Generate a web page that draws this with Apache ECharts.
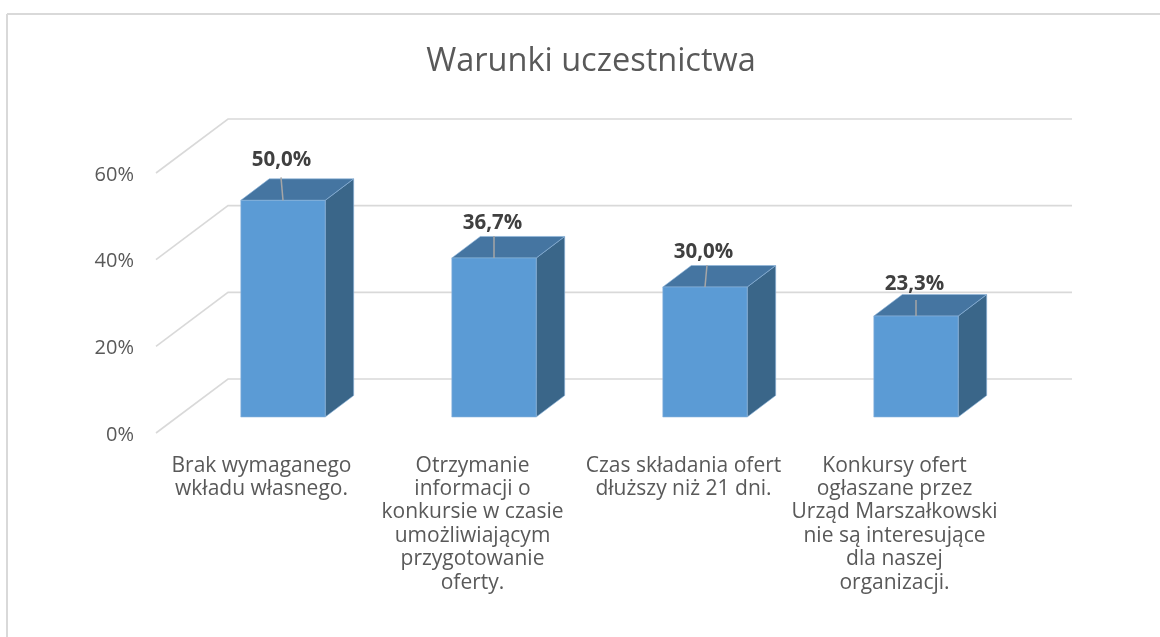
<!DOCTYPE html>
<html>
<head>
<meta charset="utf-8">
<title>Warunki uczestnictwa</title>
<script src="https://cdn.jsdelivr.net/npm/echarts@6/dist/echarts.min.js"></script>
<style>
  html, body { margin: 0; padding: 0; background: #fff; overflow: hidden; }
  #chart { width: 1160px; height: 637px; }
</style>
</head>
<body>
<div id="chart"></div>
<script>
// dane z wykresu
const categories = [
  "Brak wymaganego\nwkładu własnego.",
  "Otrzymanie\ninformacji o\nkonkursie w czasie\numożliwiającym\nprzygotowanie\noferty.",
  "Czas składania ofert\ndłuższy niż 21 dni.",
  "Konkursy ofert\nogłaszane przez\nUrząd Marszałkowski\nnie są interesujące\ndla naszej\norganizacji."
];
const values = [50.0, 36.7, 30.0, 23.3];
const valueLabels = ["50,0%", "36,7%", "30,0%", "23,3%"];
const wallTicks = [0, 20, 40, 60];

// "3D" - przesuniecia w pikselach
const WALL_DX = 72, WALL_DY = -54;
const BAR_DX = 21.5, BAR_DY = -16;
const SIDE_DX = 28.5, SIDE_DY = -21.5;
const BAR_RATIO = 0.4;
const labelLift = [40, 35, 35, 32];
const leaderLift = [23, 22, 22, 16];
const leaderLean = [-2, 0, 2, 0];

const renderWall = (params, api) => {
  const sys = params.coordSys;
  const y = api.coord([0, api.value(0)])[1];
  return {
    type: "polyline",
    shape: {
      points: [
        [sys.x, y],
        [sys.x + WALL_DX, y + WALL_DY],
        [sys.x + sys.width + WALL_DX, y + WALL_DY]
      ]
    },
    style: { stroke: "#d9d9d9", lineWidth: 1.6, fill: null }
  };
};

const renderBar = (params, api) => {
  const i = api.value(0);
  const base = api.coord([i, 0]);
  const top = api.coord([i, api.value(1)]);
  const w = api.size([1, 0])[0] * BAR_RATIO;
  const x0 = base[0] + BAR_DX - w / 2;
  const x1 = x0 + w;
  const yb = base[1] + BAR_DY;
  const yt = top[1] + BAR_DY;
  const cx = (x0 + x1) / 2;
  const edge = { stroke: "#8db5dc", lineWidth: 0.6 };
  return {
    type: "group",
    children: [
      {
        type: "polygon",
        shape: { points: [[x1, yb], [x1 + SIDE_DX, yb + SIDE_DY], [x1 + SIDE_DX, yt + SIDE_DY], [x1, yt]] },
        style: { fill: "#3a6689", ...edge }
      },
      {
        type: "polygon",
        shape: { points: [[x0, yt], [x0 + SIDE_DX, yt + SIDE_DY], [x1 + SIDE_DX, yt + SIDE_DY], [x1, yt]] },
        style: { fill: "#4575a1", ...edge }
      },
      {
        type: "rect",
        shape: { x: x0, y: yt, width: w, height: yb - yt },
        style: { fill: "#5b9bd5", ...edge }
      },
      {
        type: "line",
        shape: { x1: cx, y1: yt, x2: cx + leaderLean[i], y2: yt - leaderLift[i] },
        style: { stroke: "#a6a6a6", lineWidth: 1.5 }
      },
      {
        type: "text",
        style: {
          x: cx - 1.5,
          y: yt - labelLift[i],
          text: valueLabels[i],
          fill: "#404040",
          font: "bold 20.5px 'Open Sans', sans-serif",
          align: "center",
          verticalAlign: "middle"
        }
      }
    ]
  };
};

const chart = echarts.init(document.getElementById("chart"), null, { renderer: "canvas" });
chart.setOption({
  animation: false,
  backgroundColor: "#fff",
  title: {
    text: "Warunki uczestnictwa",
    left: 586,
    top: 40,
    textAlign: "center",
    textStyle: { color: "#595959", fontFamily: "'Open Sans', sans-serif", fontSize: 32.5, fontWeight: "normal" }
  },
  // obramowanie - tylko gora i lewa, reszta poza kadrem
  graphic: [
    { type: "line", shape: { x1: 7, y1: 14, x2: 1160, y2: 14 }, style: { stroke: "#d9d9d9", lineWidth: 2 } },
    { type: "line", shape: { x1: 7, y1: 14, x2: 7, y2: 637 }, style: { stroke: "#d9d9d9", lineWidth: 2 } }
  ],
  grid: { left: 156, right: 160, top: 173, height: 260 },
  xAxis: {
    type: "category",
    data: categories,
    axisLine: { show: false },
    axisTick: { show: false },
    axisLabel: {
      interval: 0,
      margin: 21,
      color: "#595959",
      fontFamily: "'Open Sans', sans-serif",
      fontSize: 21,
      lineHeight: 23.4,
      align: "center"
    }
  },
  yAxis: {
    type: "value",
    min: 0,
    max: 60,
    interval: 20,
    axisLine: { show: false },
    axisTick: { show: false },
    splitLine: { show: false },
    axisLabel: {
      margin: 22,
      verticalAlign: "top",
      lineHeight: 4,
      color: "#595959",
      fontFamily: "'Open Sans', sans-serif",
      fontSize: 20,
      formatter: "{value}%"
    }
  },
  series: [
    {
      type: "custom",
      z: 1,
      renderItem: renderWall,
      encode: { y: 0 },
      data: wallTicks.map((v) => [v]),
      silent: true
    },
    {
      type: "custom",
      z: 2,
      renderItem: renderBar,
      encode: { x: 0, y: 1 },
      data: values.map((v, i) => [i, v])
    }
  ]
});
</script>
</body>
</html>
